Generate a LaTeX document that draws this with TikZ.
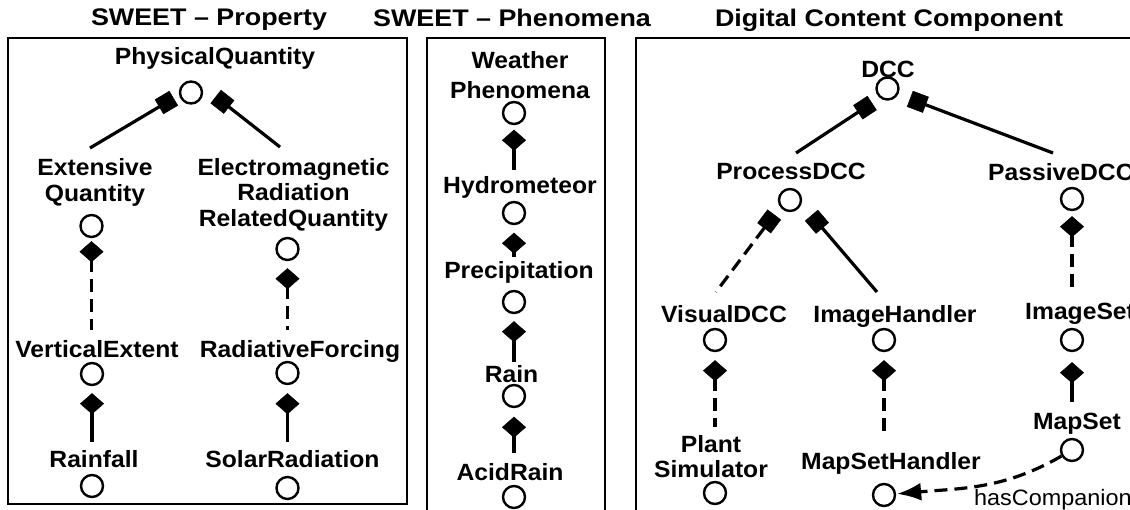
\documentclass[tikz,border=0pt]{standalone}
\usepackage{fontspec}
\setmainfont{Liberation Sans}[FakeStretch=1.05]
\newfontfamily\titlefont{Liberation Sans}[FakeStretch=1.12]
\usetikzlibrary{arrows.meta}
\begin{document}
\begin{tikzpicture}[x=1pt,y=-1pt,
  lbl/.style={inner sep=0pt, anchor=north, align=center, font=\bfseries\fontsize{23.5}{26}\selectfont},
  ttl/.style={inner sep=0pt, anchor=north, font=\titlefont\bfseries\fontsize{24}{28}\selectfont},
  cls/.style={circle, draw, line width=2.4pt, minimum size=22pt, inner sep=0pt},
  panel/.style={draw, line width=2pt},
  conn/.style={line width=3.2pt},
  dashedconn/.style={conn, dash pattern=on 13pt off 7pt},
  sqt/.style={{Square[length=17pt,width=17pt,line width=0.5pt]}-},
  dmt/.style={{Diamond[length=21pt,width=24pt,line width=0.5pt]}-}
]
\useasboundingbox (0,0) rectangle (1130,510);
\clip (0,0) rectangle (1130,510);

% panels
\draw[panel] (8,38) rectangle (407,504);
\draw[panel] (427,38) rectangle (605,530);
\draw[panel] (636,38) rectangle (1150,530);

% titles
\node[ttl] (t1) at (209,9) {SWEET – Property};
\node[ttl] (t2) at (512,9) {SWEET – Phenomena};
\node[ttl] (t3) at (889,9) {Digital Content Component};

% ---------- SWEET Property ----------
\node[lbl] (lPQ) at (215,47) {PhysicalQuantity};
\node[cls] (cPQ) at (191,92.5) {};
\node[lbl] (lEQ) at (95,158) {Extensive\\Quantity};
\node[cls] (cEQ) at (91.5,226) {};
\node[lbl, font=\bfseries\fontsize{23.5}{25.5}\selectfont] (lER) at (293.5,158) {Electromagnetic\\Radiation\\RelatedQuantity};
\node[cls] (cER) at (287.5,249) {};
\node[lbl] (lVE) at (97,340) {VerticalExtent};
\node[cls] (cVE) at (92,374) {};
\node[lbl] (lRF) at (300,340) {RadiativeForcing};
\node[cls] (cRF) at (287.5,373) {};
\node[lbl] (lRA) at (94,450) {Rainfall};
\node[cls] (cRA) at (92,486) {};
\node[lbl] (lSR) at (292.5,450) {SolarRadiation};
\node[cls] (cSR) at (287.5,488) {};

\draw[conn,sqt] ([shift={(-17.3,5.7)}]cPQ.center) -- ([shift={(-5,-10)}]lEQ.north);
\draw[conn,sqt] ([shift={(24.7,4.1)}]cPQ.center) -- ([shift={(-13.5,-11)}]lER.north);
\draw[dashedconn,dmt,shorten <=3pt,shorten >=10pt] (cEQ) -- (cEQ |- lVE.north);
\draw[dashedconn,dmt,shorten <=7pt,shorten >=10pt] (cER) -- (cER |- lRF.north);
\draw[conn,dmt,shorten <=7pt,shorten >=8pt] (cVE) -- (cVE |- lRA.north);
\draw[conn,dmt,shorten <=8pt,shorten >=8pt] (cRF) -- (cRF |- lSR.north);

% ---------- SWEET Phenomena ----------
\node[lbl, font=\bfseries\fontsize{23.5}{30}\selectfont] (lWP) at (520,51) {Weather\\Phenomena};
\node[cls] (cWP) at (514,113) {};
\node[lbl] (lHY) at (520,176) {Hydrometeor};
\node[cls] (cHY) at (514,213) {};
\node[lbl] (lPR) at (519,261) {Precipitation};
\node[cls] (cPR) at (514,302) {};
\node[lbl] (lRN) at (511.5,365) {Rain};
\node[cls] (cRN) at (514,396) {};
\node[lbl] (lAR) at (510,463) {AcidRain};
\node[cls] (cAR) at (514,497) {};

\draw[conn,dmt,shorten <=4.5pt,shorten >=6pt] (cWP) -- (cWP |- lHY.north);
\draw[conn,dmt,shorten <=7.5pt,shorten >=4pt] (cHY) -- (cHY |- lPR.north);
\draw[conn,dmt,shorten <=7pt,shorten >=3pt] (cPR) -- (cPR |- lRN.north);
\draw[conn,dmt,shorten <=8.5pt,shorten >=10pt] (cRN) -- (cRN |- lAR.north);

% ---------- Digital Content Component ----------
\node[lbl] (lDCC) at (888,61) {DCC};
\node[cls] (cDCC) at (887.5,88.5) {};
\node[lbl] (lPDCC) at (791,163) {ProcessDCC};
\node[cls] (cPDCC) at (790,200) {};
\node[lbl, anchor=north west] (lPaDCC) at (988,163) {PassiveDCC};
\node[cls] (cPaDCC) at (1072,199) {};
\node[lbl] (lVDCC) at (724,305) {VisualDCC};
\node[cls] (cVDCC) at (715,340) {};
\node[lbl] (lIH) at (895,305) {ImageHandler};
\node[cls] (cIH) at (884,340) {};
\node[lbl, anchor=north west] (lIS) at (1025,303) {ImageSet};
\node[cls] (cIS) at (1072,340) {};
\node[lbl, font=\bfseries\fontsize{23.5}{25}\selectfont] (lPS) at (711,435) {Plant\\Simulator};
\node[cls] (cPS) at (715,493) {};
\node[lbl] (lMSH) at (891,452) {MapSetHandler};
\node[cls] (cMSH) at (884,495) {};
\node[lbl] (lMS) at (1077,413) {MapSet};
\node[cls] (cMS) at (1072,450) {};
\node[inner sep=0pt, anchor=north west, font=\fontsize{22.3}{26}\selectfont] (lHC) at (974,489) {hasCompanion};

\draw[conn,sqt] ([shift={(-15.4,14.5)}]cDCC.center) -- ([shift={(5,-10)}]lPDCC.north);
\draw[conn,sqt] ([shift={(22.4,10.3)}]cDCC.center) -- ([shift={(65,-10)}]lPaDCC.north west);
\draw[dashedconn,sqt] ([shift={(-15.7,14.6)}]cPDCC.center) -- ([shift={(-8,-13)}]lVDCC.north);
\draw[conn,sqt] ([shift={(21.4,15.3)}]cPDCC.center) -- ([shift={(-18,-13)}]lIH.north);
\draw[dashedconn,dmt,shorten <=5pt,shorten >=13pt] (cPaDCC) -- (cPaDCC |- lIS.north);
\draw[dashedconn,dmt,shorten <=8pt,shorten >=8pt] (cVDCC) -- (cVDCC |- lPS.north);
\draw[dashedconn,dmt,shorten <=8pt,shorten >=14pt] (cIH) -- (cIH |- lMSH.north);
\draw[conn,dmt,shorten <=10pt,shorten >=11pt] (cIS) -- (cIS |- lMS.north);
\draw[dashedconn,-{Latex[length=24pt,width=18pt]},shorten >=1pt] (cMS) to[out=210,in=5] (cMSH);
\end{tikzpicture}
\end{document}
